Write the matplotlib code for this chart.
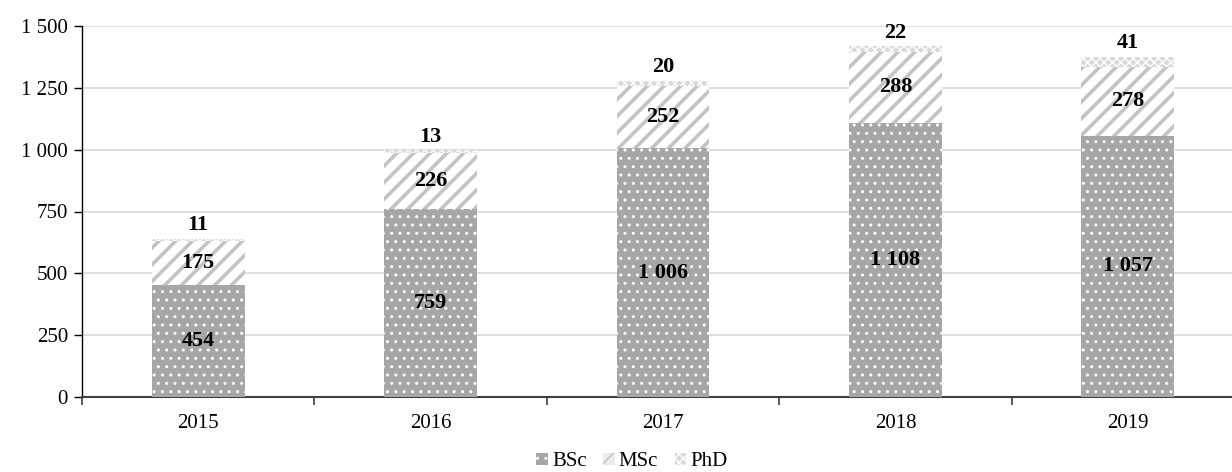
import numpy as np
import matplotlib
matplotlib.use("Agg")
import matplotlib.pyplot as plt
from matplotlib.patches import Patch

plt.rcParams["font.family"] = ["Liberation Serif", "DejaVu Serif"]

years = ["2015", "2016", "2017", "2018", "2019"]
bsc = [454, 759, 1006, 1108, 1057]
msc = [175, 226, 252, 288, 278]
phd = [11, 13, 20, 22, 41]
yticks = [0, 250, 500, 750, 1000, 1250, 1500]


def fmt(v):
    return f"{v:,}".replace(",", " ")


def hatched_bar(ax, x, h, bottom, face, hatch, hcol, hlw):
    with plt.rc_context({"hatch.linewidth": hlw}):
        bars = ax.bar(x, h, 0.4, bottom=bottom, color=face, edgecolor=hcol,
                      linewidth=0, hatch=hatch, zorder=3)
    for b in bars:
        if hasattr(b, "set_hatch_linewidth"):
            b.set_hatch_linewidth(hlw)
    return bars


fig = plt.figure(figsize=(12.32, 4.72), dpi=100)
ax = fig.add_axes([82 / 1232, 1 - 397 / 472, (1244 - 82) / 1232, (397 - 26) / 472])

x = np.arange(len(years))
bsc_a = np.array(bsc); msc_a = np.array(msc); phd_a = np.array(phd)
hatched_bar(ax, x, bsc_a, 0, "#a6a6a6", "..", "white", 1.0)
hatched_bar(ax, x, msc_a, bsc_a, "white", "//", "#c3c3c3", 2.6)
hatched_bar(ax, x, phd_a, bsc_a + msc_a, "#d9d9d9", "xxxx", "white", 1.0)

tk = dict(ha="center", va="center", fontsize=16, fontweight="bold", zorder=5)
for i in range(len(years)):
    ax.text(x[i], bsc_a[i] / 2, fmt(bsc[i]), **tk)
    ax.text(x[i], bsc_a[i] + msc_a[i] / 2, fmt(msc[i]), **tk)
    ax.text(x[i], bsc_a[i] + msc_a[i] + phd_a[i] + 55, fmt(phd[i]), **tk)

ax.set_ylim(0, 1500)
ax.set_xlim(-0.5, len(years) - 0.5)
ax.set_yticks(yticks)
ax.set_yticklabels([fmt(v) for v in yticks], fontsize=15)
ax.set_xticks(x)
ax.set_xticklabels(years, fontsize=15)
ax.set_xticks(np.arange(len(years) + 1) - 0.5, minor=True)
ax.tick_params(axis="x", which="major", length=0, pad=12)
ax.tick_params(axis="x", which="minor", length=6, width=1.2, color="#404040", direction="out")
ax.tick_params(axis="y", length=6, width=1.0, direction="out", pad=4)
ax.grid(axis="y", color="#d9d9d9", lw=1.2, zorder=0)
ax.set_axisbelow(True)
for s in ["top", "right"]:
    ax.spines[s].set_visible(False)
ax.spines["left"].set_linewidth(1.0)
ax.spines["bottom"].set_linewidth(1.5)
ax.spines["bottom"].set_color("#404040")

handles = [Patch(facecolor="#a6a6a6", edgecolor="white", hatch="..", lw=0, label="BSc"),
           Patch(facecolor="#ebebeb", edgecolor="#c3c3c3", hatch="//", lw=0, label="MSc"),
           Patch(facecolor="#d9d9d9", edgecolor="white", hatch="xxxx", lw=0, label="PhD")]
fig.legend(handles=handles, loc="center", bbox_to_anchor=(632 / 1232, 1 - 462 / 472),
           ncol=3, frameon=False, fontsize=15, handlelength=0.55, handleheight=0.55,
           handletextpad=0.2, columnspacing=0.8)

fig.savefig("out.png", dpi=100)
